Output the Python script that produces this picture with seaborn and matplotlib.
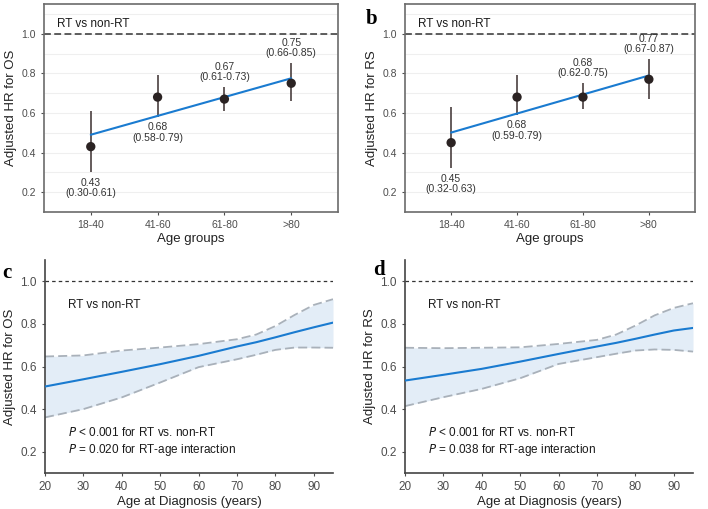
import matplotlib
matplotlib.use("Agg")
import matplotlib.pyplot as plt
import seaborn as sns
import numpy as np
import pandas as pd

# ---------------- data ----------------
age_groups = ["18-40", "41-60", "61-80", ">80"]
hr_os = [0.43, 0.68, 0.67, 0.75]
lo_os = [0.30, 0.58, 0.61, 0.66]
hi_os = [0.61, 0.79, 0.73, 0.85]
hr_rs = [0.45, 0.68, 0.68, 0.77]
lo_rs = [0.32, 0.59, 0.62, 0.67]
hi_rs = [0.63, 0.79, 0.75, 0.87]
label_side = ["below", "below", "above", "above"]

age = [20, 30, 40, 50, 60, 70, 75, 80, 85, 90, 95]
c_fit = [0.506, 0.540, 0.575, 0.611, 0.650, 0.694, 0.714, 0.737, 0.761, 0.784, 0.806]
c_up = [0.647, 0.652, 0.675, 0.689, 0.705, 0.728, 0.750, 0.790, 0.842, 0.889, 0.916]
c_lo = [0.361, 0.400, 0.455, 0.525, 0.597, 0.634, 0.655, 0.678, 0.689, 0.689, 0.688]
d_fit = [0.534, 0.561, 0.589, 0.623, 0.659, 0.694, 0.711, 0.730, 0.750, 0.769, 0.781]
d_up = [0.688, 0.686, 0.688, 0.690, 0.706, 0.725, 0.750, 0.792, 0.840, 0.875, 0.897]
d_lo = [0.414, 0.456, 0.495, 0.545, 0.612, 0.644, 0.660, 0.675, 0.680, 0.678, 0.670]

sns.set_theme(style="white")
plt.rcParams["font.family"] = ["Liberation Sans", "DejaVu Sans"]

W, H = 708, 509
fig = plt.figure(figsize=(W / 100, H / 100), dpi=100)

def px_axes(l, t, r, b):
    return fig.add_axes([l / W, 1 - b / H, (r - l) / W, (b - t) / H])

BLUE = "#1a7bd0"
TICK_C = "#4d4d4d"

def group_panel(ax, hr, lo, hi, ylabel):
    x = np.arange(len(age_groups))
    df = pd.DataFrame({"x": x, "hr": hr})
    ax.set_xlim(-0.7, 3.7)
    ax.set_ylim(0.1, 1.15)
    for v in np.arange(0.1, 1.15, 0.1):
        ax.axhline(v, color="#efefef", lw=0.8, zorder=0)
    ax.axhline(1.0, color="#333333", lw=1.1, ls=(0, (4.5, 2.2)), zorder=1)
    ax.vlines(x, lo, hi, color="#4a3f3f", lw=1.2, zorder=2)
    sns.regplot(data=df, x="x", y="hr", ax=ax, ci=None, scatter=False,
                color=BLUE, line_kws={"lw": 1.5, "zorder": 3})
    sns.scatterplot(data=df, x="x", y="hr", ax=ax, color="#2b2323", s=45,
                    edgecolor="none", zorder=4, legend=False)
    for i in range(len(hr)):
        txt = f"{hr[i]:.2f}\n({lo[i]:.2f}-{hi[i]:.2f})"
        y = lo[i] - 0.078 if label_side[i] == "below" else hi[i] + 0.077
        ax.text(x[i], y, txt, ha="center", va="center", fontsize=7.5,
                color="#333333", linespacing=1.05, zorder=5)
    ax.set_xticks(x)
    ax.set_xticklabels(age_groups)
    ax.set_yticks([0.2, 0.4, 0.6, 0.8, 1.0])
    ax.set_yticklabels(["0.2", "0.4", "0.6", "0.8", "1.0"])
    ax.tick_params(axis="both", labelsize=7.5, colors=TICK_C, length=2.5,
                   width=0.8, direction="out", bottom=True, left=True)
    ax.set_xlabel("Age groups", fontsize=9.5, color="#222222", labelpad=2)
    ax.set_ylabel(ylabel, fontsize=9.5, color="#222222", labelpad=3)
    for s in ax.spines.values():
        s.set_color("#6b6b6b")
        s.set_linewidth(1.2)
    ax.text(0.045, 0.905, "RT vs non-RT", transform=ax.transAxes,
            fontsize=8.5, color="#1a1a1a", ha="left", va="center")

def spline_panel(ax, fit, up, lo, ylabel, p2):
    df = pd.DataFrame({"age": age, "fit": fit, "up": up, "lo": lo})
    ax.set_xlim(20, 95)
    ax.set_ylim(0.1, 1.1)
    ax.fill_between(df["age"], df["lo"], df["up"], color="#e3edf7", lw=0, zorder=1)
    sns.lineplot(data=df, x="age", y="up", ax=ax, color="#a9b1ba", lw=1.3,
                 linestyle=(0, (5, 2.3)), zorder=2)
    sns.lineplot(data=df, x="age", y="lo", ax=ax, color="#a9b1ba", lw=1.3,
                 linestyle=(0, (5, 2.3)), zorder=2)
    sns.lineplot(data=df, x="age", y="fit", ax=ax, color=BLUE, lw=1.5, zorder=3)
    ax.axhline(1.0, color="#333333", lw=0.9, ls=(0, (2.8, 2.5)), zorder=1)
    ax.set_xticks([20, 30, 40, 50, 60, 70, 80, 90])
    ax.set_yticks([0.2, 0.4, 0.6, 0.8, 1.0])
    ax.set_yticklabels(["0.2", "0.4", "0.6", "0.8", "1.0"])
    ax.tick_params(axis="both", labelsize=8.5, colors=TICK_C, length=2.5,
                   width=0.8, direction="out", bottom=True, left=True)
    ax.set_xlabel("Age at Diagnosis (years)", fontsize=9.5, color="#222222", labelpad=2)
    ax.set_ylabel(ylabel, fontsize=9.5, color="#222222", labelpad=3)
    sns.despine(ax=ax)
    for s in ("left", "bottom"):
        ax.spines[s].set_color("#444444")
        ax.spines[s].set_linewidth(1.2)
    ax.text(26.0, 0.889, "RT vs non-RT", fontsize=8.5, color="#1a1a1a",
            ha="left", va="center")
    ax.text(26.0, 0.288, r"$\it{P}$ < 0.001 for RT vs. non-RT", fontsize=8.5,
            color="#1a1a1a", ha="left", va="center")
    ax.text(26.0, 0.207, r"$\it{P}$ = " + p2 + " for RT-age interaction", fontsize=8.5,
            color="#1a1a1a", ha="left", va="center")

ax_a = px_axes(44, 4, 338, 212)
ax_b = px_axes(405, 4, 695, 212)
ax_c = px_axes(45, 260, 333, 473)
ax_d = px_axes(405, 260, 693, 473)

group_panel(ax_a, hr_os, lo_os, hi_os, "Adjusted HR for OS")
group_panel(ax_b, hr_rs, lo_rs, hi_rs, "Adjusted HR for RS")
spline_panel(ax_c, c_fit, c_up, c_lo, "Adjusted HR for OS", "0.020")
spline_panel(ax_d, d_fit, d_up, d_lo, "Adjusted HR for RS", "0.038")

letter_font = dict(fontsize=15, fontweight="bold", family="Liberation Serif",
                   color="black", ha="center", va="baseline")
fig.text(372 / W, 1 - 24 / H, "b", **letter_font)
fig.text(7 / W, 1 - 278 / H, "c", **letter_font)
fig.text(379 / W, 1 - 275 / H, "d", **letter_font)

fig.savefig("out.png", dpi=100)
